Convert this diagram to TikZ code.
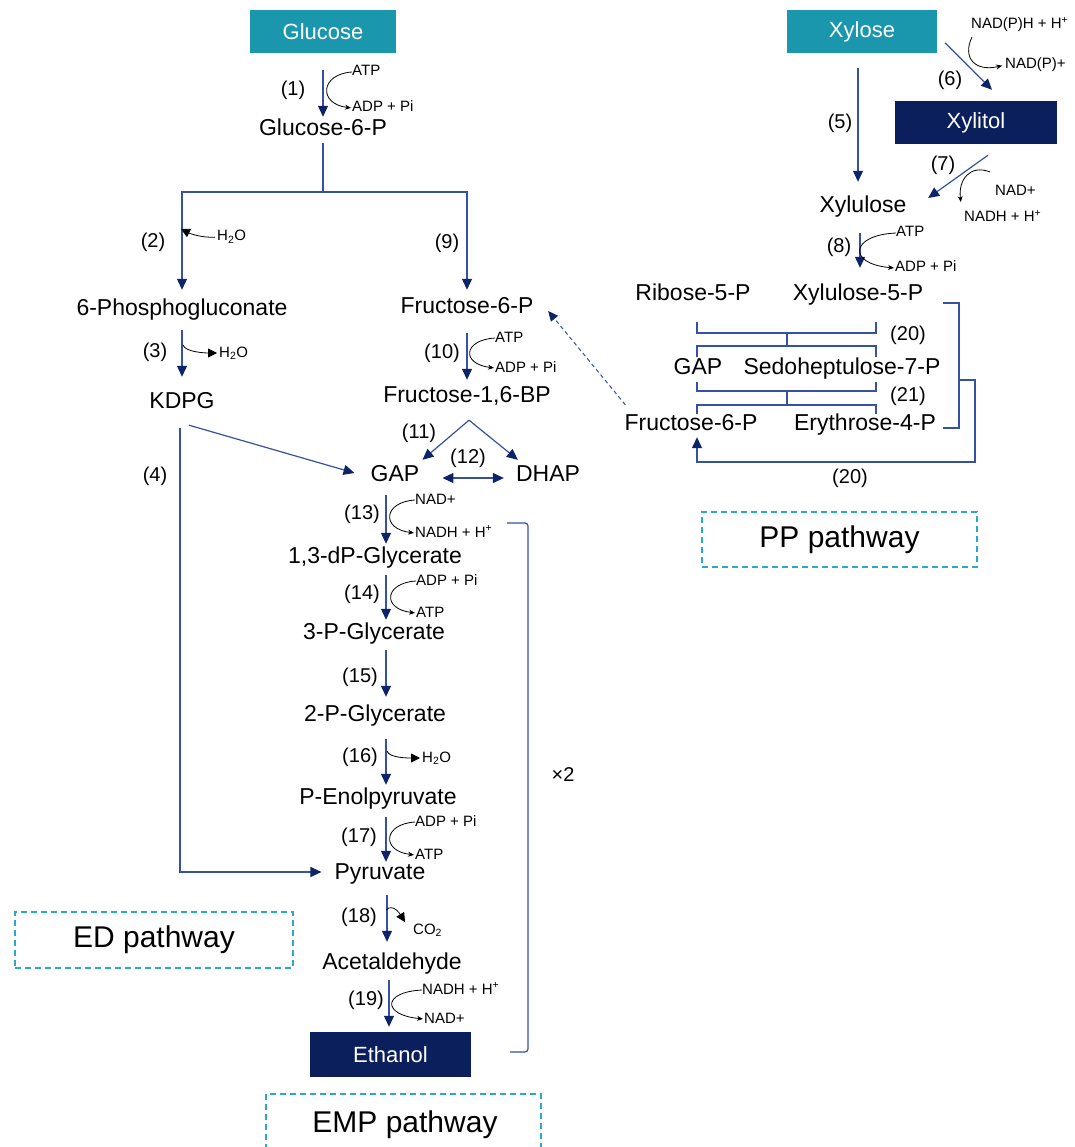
\documentclass[tikz,border=0pt]{standalone}
\usepackage{fontspec}
\setmainfont{Liberation Sans}
\usetikzlibrary{arrows.meta,calc}

\definecolor{tealbox}{RGB}{26,151,173}
\definecolor{navybox}{RGB}{11,31,92}
\definecolor{linkblue}{RGB}{52,82,160}
\definecolor{headnavy}{RGB}{14,36,104}
\definecolor{dashteal}{RGB}{45,168,198}

\tikzset{
  mainlbl/.style={font=\fontsize{23}{26}\selectfont, inner sep=2pt, text height=17pt, text depth=5pt},
  num/.style={font=\fontsize{20}{24}\selectfont, inner sep=0pt},
  cof/.style={font=\fontsize{15}{18}\selectfont, inner sep=0pt, anchor=west, text height=11pt, text depth=3pt},
  srcbox/.style={fill=tealbox, text=white, font=\fontsize{22}{26}\selectfont, inner sep=0pt, minimum height=43pt},
  prodbox/.style={fill=navybox, text=white, font=\fontsize{22}{26}\selectfont, inner sep=0pt},
  pwbox/.style={draw=dashteal, dash pattern=on 6pt off 4pt, line width=1.3pt, font=\fontsize{30}{34}\selectfont, inner sep=0pt},
  link/.style={draw=linkblue, line width=1.2pt},
  flow/.style={link, -{Triangle[length=11pt,width=10pt,color=headnavy]}},
  flowboth/.style={link, {Triangle[length=11pt,width=10pt,color=headnavy]}-{Triangle[length=11pt,width=10pt,color=headnavy]}},
  cofarrow/.style={black, line width=0.8pt, shorten >=1pt, -{Stealth[length=6pt,width=5pt]}},
  waterarrow/.style={black, line width=0.8pt, -{Triangle[length=9pt,width=9pt]}},
}

\begin{document}
\begin{tikzpicture}[x=1pt, y=-1pt]
\fill[white] (0,0) rectangle (1074,1147);
\useasboundingbox (0,0) rectangle (1074,1147);

% ---------- glucose branch ----------
\node[srcbox, minimum width=146pt] (glc) at (323,31.5) {Glucose};
\node[num] (n1) at (293,90) {(1)};
\node[cof] (atp1) at (352,72) {ATP};
\node[cof] (adp1) at (352,108) {ADP + Pi};
\node[mainlbl] (g6p) at (323,130) {Glucose-6-P};
\coordinate (br) at (323,192);

\node[num] (n2) at (153,242) {(2)};
\node[cof] (h2o2) at (217,237) {H\textsubscript{2}O};
\node[mainlbl] (pg6) at (182,310) {6-Phosphogluconate};
\node[num] (n3) at (155,352) {(3)};
\node[cof] (h2o3) at (219,353) {H\textsubscript{2}O};
\node[mainlbl] (kdpg) at (182,402) {KDPG};
\node[num] (n4) at (155,476) {(4)};

\node[num] (n9) at (447,243) {(9)};
\node[mainlbl] (f6p) at (467,307) {Fructose-6-P};
\node[num] (n10) at (442,353) {(10)};
\node[cof] (atp10) at (495,338) {ATP};
\node[cof] (adp10) at (495,368) {ADP + Pi};
\node[mainlbl] (fbp) at (467,396) {Fructose-1,6-BP};
\node[num] (n11) at (419,433) {(11)};
\node[mainlbl] (gap) at (395,475) {GAP};
\node[mainlbl] (dhap) at (548,475) {DHAP};
\node[num] (n12) at (468,458) {(12)};

\node[num] (n13) at (362,514) {(13)};
\node[cof] (nad13) at (415,500) {NAD+};
\node[cof] (nadh13) at (415,533) {NADH + H\textsuperscript{+}};
\node[mainlbl] (bpg) at (375,557) {1,3-dP-Glycerate};
\node[num] (n14) at (362,594) {(14)};
\node[cof] (adp14) at (416,581) {ADP + Pi};
\node[cof] (atp14) at (416,613) {ATP};
\node[mainlbl] (pg3) at (374,633) {3-P-Glycerate};
\node[num] (n15) at (360,677) {(15)};
\node[mainlbl] (pg2) at (375,715) {2-P-Glycerate};
\node[num] (n16) at (360,757) {(16)};
\node[cof] (h2o16) at (422,758) {H\textsubscript{2}O};
\node[mainlbl] (pep) at (378,798) {P-Enolpyruvate};
\node[num] (n17) at (359,837) {(17)};
\node[cof] (adp17) at (415,822) {ADP + Pi};
\node[cof] (atp17) at (415,855) {ATP};
\node[mainlbl] (pyr) at (380,873) {Pyruvate};
\node[num] (n18) at (359,917) {(18)};
\node[cof] (co2) at (413,930) {CO\textsubscript{2}};
\node[mainlbl] (acet) at (392,963) {Acetaldehyde};
\node[num] (n19) at (366,1000) {(19)};
\node[cof] (nadh19) at (422,990) {NADH + H\textsuperscript{+}};
\node[cof] (nad19) at (424,1019) {NAD+};
\node[prodbox, minimum width=161pt, minimum height=45pt] (eth) at (390.5,1054.5) {Ethanol};

\node[font=\fontsize{20}{24}\selectfont] (times) at (563,775) {×2};

% ---------- pathway frames ----------
\node[pwbox, minimum width=278pt, minimum height=56pt] (ed) at (154,940) {ED pathway};
\node[pwbox, minimum width=275pt, minimum height=55pt] (pp) at (839.5,539.5) {PP pathway};
\draw[draw=dashteal, dash pattern=on 6pt off 4pt, line width=1.3pt]
  (266,1150) -- (266,1094) -- (541,1094) -- (541,1150);
\node[font=\fontsize{30}{34}\selectfont] (emp) at (405,1125) {EMP pathway};

% ---------- xylose branch ----------
\node[srcbox, minimum width=150pt] (xyl) at (862,31.5) {Xylose};
\node[num] (n5) at (840,123) {(5)};
\node[prodbox, minimum width=162pt, minimum height=43pt] (xylitol) at (976,122.5) {Xylitol};
\node[num] (n6) at (950,80) {(6)};
\node[cof] (nadph) at (971,25) {NAD(P)H + H\textsuperscript{+}};
\node[cof] (nadp) at (1005,65) {NAD(P)+};
\node[mainlbl] (xylu) at (863,207) {Xylulose};
\node[num] (n7) at (943,165) {(7)};
\node[cof] (nad7) at (995,192) {NAD+};
\node[cof] (nadh7) at (964,218) {NADH + H\textsuperscript{+}};
\node[num] (n8) at (839,247) {(8)};
\node[cof] (atp8) at (896,233) {ATP};
\node[cof] (adp8) at (895,268) {ADP + Pi};

\node[mainlbl] (r5p) at (693,294) {Ribose-5-P};
\node[mainlbl] (x5p) at (858,294) {Xylulose-5-P};
\node[mainlbl] (gap2) at (698,368) {GAP};
\node[mainlbl] (s7p) at (842,368) {Sedoheptulose-7-P};
\node[mainlbl] (f6p2) at (691,424) {Fructose-6-P};
\node[mainlbl] (e4p) at (865,424) {Erythrose-4-P};
\node[num] (n20a) at (908,335) {(20)};
\node[num] (n21) at (908,396) {(21)};
\node[num] (n20b) at (850,478) {(20)};

% ---------- main connectors ----------
\draw[flow, shorten <=17pt] (glc.south) -- (g6p.north);
\draw[link] (g6p.south) -- (br);
\draw[flow, shorten >=7pt] (br) -| (pg6.north);
\draw[flow, shorten >=4pt] (br) -| (f6p.north);
\draw[flow, shorten <=7pt, shorten >=12pt] (pg6.south) -- (kdpg.north);
\draw[flow] ($(kdpg.south)+(7,10)$) -- ($(gap.west)+(-14,-2)$);
\draw[flow] ($(kdpg.south)+(-2,13)$) |- ($(pyr.west)+(-11,-1)$);
\draw[flow, shorten <=13pt, shorten >=3pt] (f6p.south) -- (fbp.north);
\coordinate (apex) at ($(fbp.south)+(2,11)$);
\draw[flow] (apex) -- ($(gap.north east)+(1,-2)$);
\draw[flow] (apex) -- ($(dhap.north west)+(4,-2)$);
\draw[flowboth] ($(gap.east)+(21,3)$) -- ($(dhap.west)+(-10,3)$);

\coordinate (ax) at (386,0);
\coordinate (axb) at (387,0);
\coordinate (axc) at (389,0);
\draw[flow, shorten <=7pt] (gap.south -| ax) -- (bpg.north -| ax);
\draw[flow, shorten <=5pt] (bpg.south -| ax) -- (pg3.north -| ax);
\draw[flow, shorten <=4pt, shorten >=5pt] (pg3.south -| ax) -- (pg2.north -| ax);
\draw[flow, shorten <=11pt] (pg2.south -| ax) -- (pep.north -| ax);
\draw[flow, shorten <=6pt, shorten >=-2pt] (pep.south -| ax) -- (pyr.north -| ax);
\draw[flow, shorten <=9pt, shorten >=8pt] (pyr.south -| axb) -- (acet.north -| axb);
\draw[flow, shorten <=4pt, shorten >=5pt] (acet.south -| axc) -- (eth.north -| axc);

% x2 bracket
\draw[link, rounded corners=3pt] (507,523) -- (528,523) -- (528,1052) -- (510,1052);

% xylose connectors
\coordinate (axv) at (858,0);
\coordinate (axw) at (860,0);
\draw[flow, shorten <=15pt, shorten >=12pt] (xyl.south -| axv) -- (xylu.north -| axv);
\draw[flow] ($(xyl.east)+(8,11.5)$) -- ($(xylitol.north)+(16,-11)$);
\draw[flow] ($(xylitol.south)+(12,11)$) -- ($(xylu.east)+(19.5,-9)$);
\draw[flow, shorten <=13pt, shorten >=13pt] (xylu.south -| axw) -- (x5p.north -| axw);

% pentose phosphate exchanges
\draw[link] (697,322) -- (697,333) -- (876,333) -- (876,322);
\draw[link] (787,333) -- (787,346);
\draw[link] (697,357) -- (697,346) -- (876,346) -- (876,357);
\draw[link] (697,382) -- (697,391) -- (876,391) -- (876,382);
\draw[link] (787,391) -- (787,405);
\draw[link] (697,414) -- (697,405) -- (876,405) -- (876,414);
\draw[link] ($(x5p.east)+(18,9)$) -- (959,303) -- (959,428) -- ($(e4p.east)+(5,4)$);
\coordinate (ret) at (959,380);
\draw[flow] (ret) -- (975,380) |- (697,462) -- ($(f6p2.south)+(6,0)$);
\draw[link, line width=1pt, dash pattern=on 4pt off 3pt, -{Triangle[length=10pt,width=9pt,color=headnavy]}]
  ($(f6p2.north west)+(3,-6)$) -- ($(f6p.east)+(12.5,4)$);

% ---------- cofactor arrows ----------
\draw[cofarrow] (atp1.west) .. controls +(-32,2) and +(-34,-4) .. (adp1.west);
\draw[cofarrow] (atp10.west) .. controls +(-32,2) and +(-34,-4) .. (adp10.west);
\draw[cofarrow] (nad13.west) .. controls +(-32,2) and +(-34,-4) .. (nadh13.west);
\draw[cofarrow] (adp14.west) .. controls +(-32,2) and +(-34,-4) .. (atp14.west);
\draw[cofarrow] (adp17.west) .. controls +(-32,2) and +(-34,-4) .. (atp17.west);
\draw[cofarrow] (nadh19.west) .. controls +(-40,2) and +(-42,-4) .. (nad19.west);
\draw[cofarrow] (atp8.west) .. controls +(-46,2) and +(-48,-4) .. (adp8.west);

\coordinate (c6s) at ($(nadph.west)+(1,12)$);
\draw[cofarrow, shorten >=3pt] (c6s) .. controls (962,58) and (975,72) .. (nadp.west);
\coordinate (c7s) at ($(nad7.west)+(-5,-20)$);
\coordinate (c7e) at ($(nadh7.west)+(-3,-15)$);
\draw[cofarrow] (c7s) .. controls (970,164) and (958,180) .. (c7e);

\coordinate (w2) at (181,229);
\draw[waterarrow, shorten <=2pt] (h2o2.west) .. controls +(-14,1) and +(10,5) .. (w2);
\coordinate (w3) at (183,345);
\draw[waterarrow, shorten >=2pt] (w3) .. controls +(2,7) and +(-14,0) .. (h2o3.west);
\coordinate (w16) at (387,751);
\draw[waterarrow, shorten >=2pt] (w16) .. controls +(2,7) and +(-14,0) .. (h2o16.west);
\coordinate (w18) at (386,910);
\coordinate (w18e) at ($(co2.west)+(-8,-8)$);
\draw[waterarrow] (w18) .. controls +(7,-7) and +(-5,-8) .. (w18e);

\end{tikzpicture}
\end{document}
